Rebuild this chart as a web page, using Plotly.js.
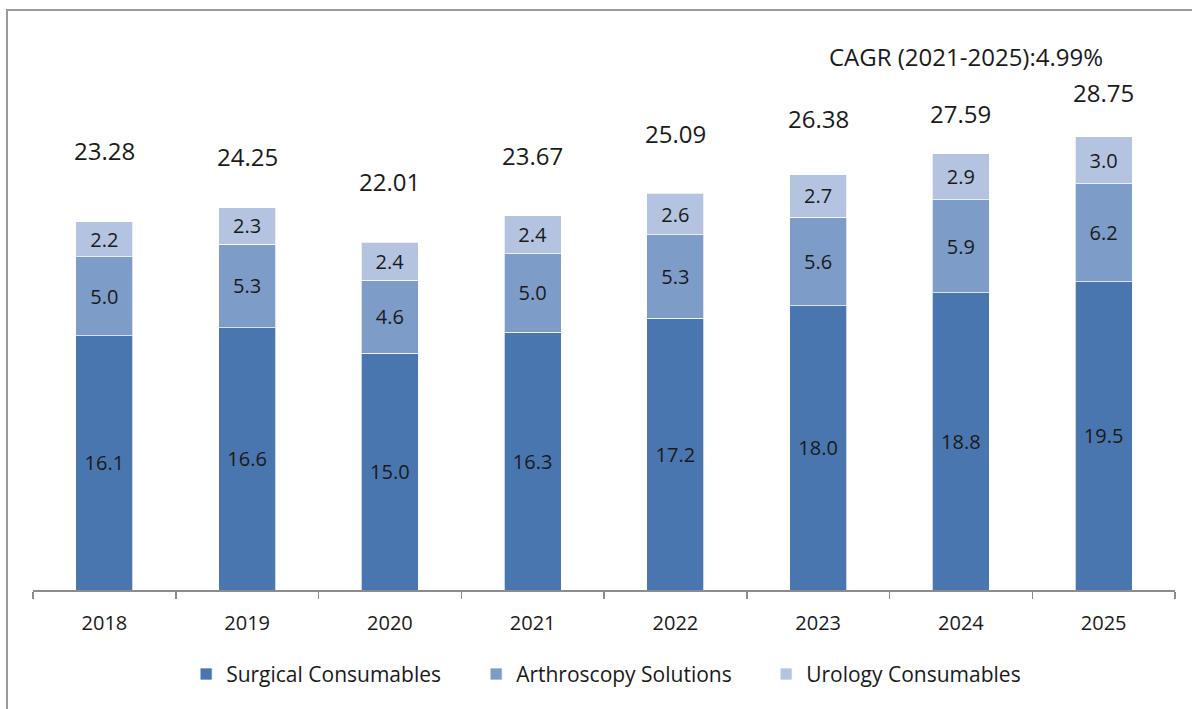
<!DOCTYPE html>
<html>
<head>
<meta charset="utf-8">
<script src="https://cdn.plot.ly/plotly-3.0.1.min.js"></script>
<style>
html,body{margin:0;padding:0;background:#fff;}
#chart{width:1192px;height:709px;}
</style>
</head>
<body>
<div id="chart"></div>
<script>
// ---- data ----
var years = ['2018','2019','2020','2021','2022','2023','2024','2025'];
var surgical = [16.1,16.6,15.0,16.3,17.2,18.0,18.8,19.5];
var arthroscopy = [5.0,5.3,4.6,5.0,5.3,5.6,5.9,6.2];
var urology = [2.2,2.3,2.4,2.4,2.6,2.7,2.9,3.0];
var totals = [23.28,24.25,22.01,23.67,25.09,26.38,27.59,28.75];
var seriesNames = ['Surgical Consumables','Arthroscopy Solutions','Urology Consumables'];
var cagrText = 'CAGR (2021-2025):4.99%';

// ---- style ----
var colors = ['#4976AE','#7E9CC8','#B4C4E0'];
var FONT = '"Open Sans", "Noto Sans", sans-serif';
var labelLift = [72,50,61,61,60,55,41,43]; // px lift of total labels above bar tops

function barTrace(vals, name, color){
  return {
    type:'bar', x:years, y:vals, name:name,
    marker:{color:color, line:{color:'rgba(255,255,255,0.7)', width:1}},
    texttemplate:'%{y:.1f}', textposition:'inside', insidetextanchor:'middle',
    textangle:0,
    textfont:{family:FONT, size:20, color:'#1a1a1a'},
    hoverinfo:'skip'
  };
}
var data = [
  barTrace(surgical, seriesNames[0], colors[0]),
  barTrace(arthroscopy, seriesNames[1], colors[1]),
  barTrace(urology, seriesNames[2], colors[2])
];

var n = years.length;
var annotations = years.map(function(yr,i){
  return {x:(i+0.5)/n, y:totals[i], xref:'paper', yref:'y', text:totals[i].toFixed(2),
    showarrow:false, xanchor:'center', yanchor:'middle', yshift:labelLift[i],
    font:{family:FONT, size:24, color:'#1a1a1a'}};
});
annotations.push({x:(966-33)/1142, y:33.8, xref:'paper', yref:'y', text:cagrText, showarrow:false,
  xanchor:'center', yanchor:'middle', font:{family:FONT, size:24, color:'#1a1a1a'}});

var layout = {
  width:1192, height:709,
  margin:{l:33, r:17, t:20, b:119},
  paper_bgcolor:'#fff', plot_bgcolor:'#fff',
  barmode:'stack', bargap:0.6,
  font:{family:FONT, color:'#1a1a1a'},
  showlegend:true,
  legend:{orientation:'h', x:0.515, xanchor:'center', y:-0.148, yanchor:'middle',
    font:{family:FONT, size:21, color:'#1a1a1a'}, traceorder:'normal',
    entrywidth:245},
  xaxis:{type:'category', range:[-0.5,7.5], autorange:false, showline:true, linecolor:'#8c8c8c', linewidth:1.5,
    ticks:'outside', tickson:'boundaries', ticklen:7, tickcolor:'#8c8c8c', tickwidth:1.5,
    tickangle:0, ticklabelstandoff:14,
    tickfont:{family:FONT, size:20, color:'#1a1a1a'},
    showgrid:false, zeroline:false, fixedrange:true},
  yaxis:{visible:false, range:[0,36.08], autorange:false, fixedrange:true},
  annotations:annotations,
  shapes:[{type:'rect', xref:'paper', yref:'paper',
    x0:(7-33)/1142, x1:1.03, y0:-0.25, y1:(590-10)/570,
    line:{color:'#9a9a9a', width:2}, fillcolor:'rgba(0,0,0,0)', layer:'below'}]
};

Plotly.newPlot('chart', data, layout, {displayModeBar:false, staticPlot:true});
</script>
</body>
</html>
